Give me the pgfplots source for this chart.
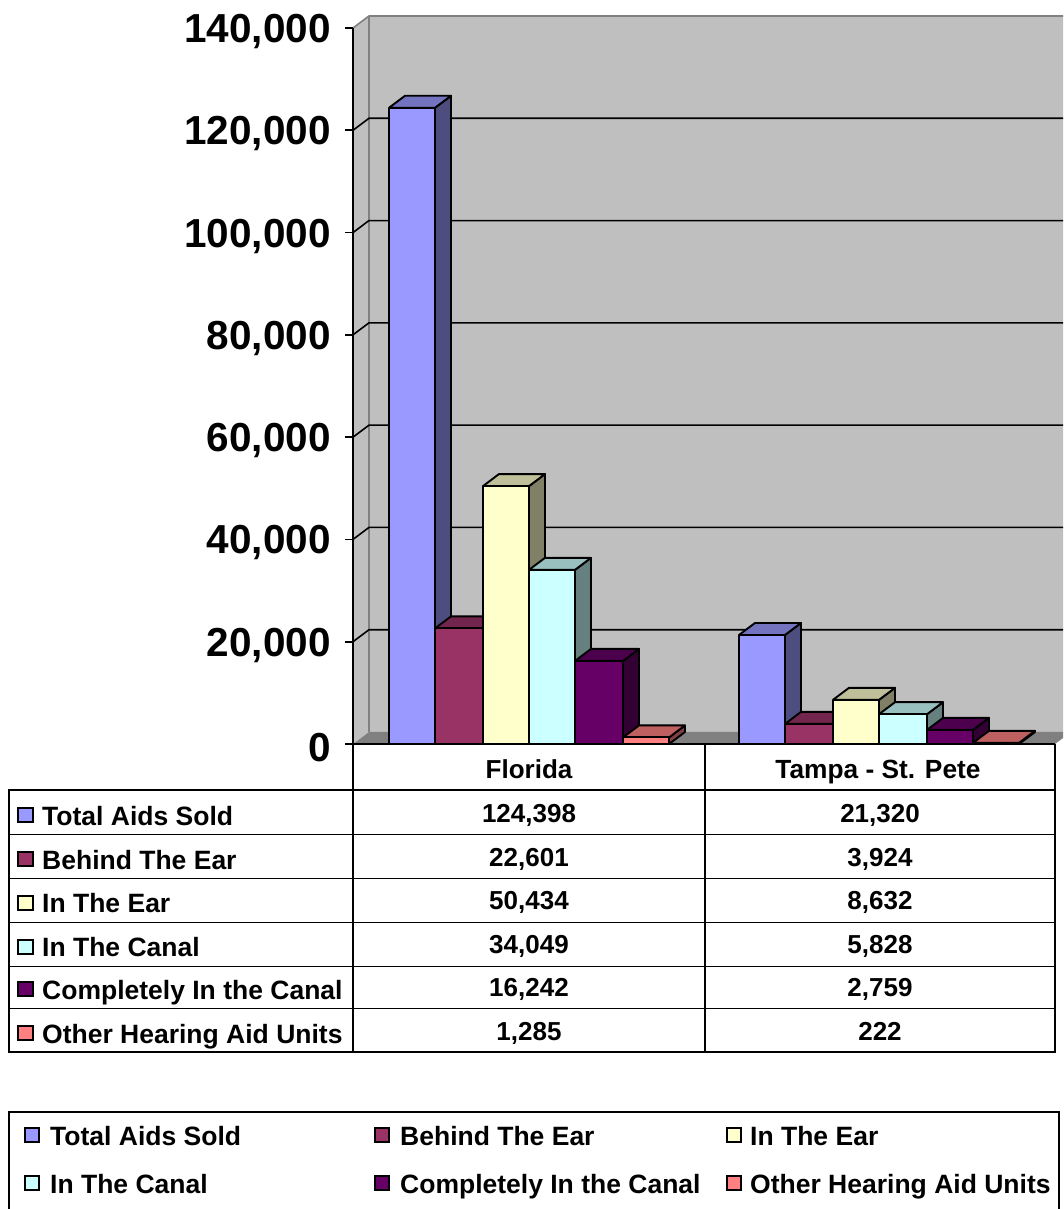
\documentclass[border=0pt]{standalone}
\usepackage{pgfplots}
\usepackage{pgfplotstable}
\pgfplotsset{compat=1.18}
\usepackage{fontspec}
\setmainfont{Liberation Sans}

\definecolor{cA}{HTML}{9999FF}\definecolor{cAt}{HTML}{7373BF}\definecolor{cAs}{HTML}{4D4D80}
\definecolor{cB}{HTML}{993366}\definecolor{cBt}{HTML}{73264D}\definecolor{cBs}{HTML}{4D1933}
\definecolor{cC}{HTML}{FFFFCC}\definecolor{cCt}{HTML}{BFBF99}\definecolor{cCs}{HTML}{808066}
\definecolor{cD}{HTML}{CCFFFF}\definecolor{cDt}{HTML}{99BFBF}\definecolor{cDs}{HTML}{668080}
\definecolor{cE}{HTML}{660066}\definecolor{cEt}{HTML}{4D004D}\definecolor{cEs}{HTML}{330033}
\definecolor{cF}{HTML}{FF8080}\definecolor{cFt}{HTML}{BF6060}\definecolor{cFs}{HTML}{804040}

% x = a*x0 + b*x1 + e,  y = f*value + d  (depth: 16 px across, 12 px = 2350 units up)
\pgfplotstableread{
a b e f d
1 0 0 0 0
1 0 0 1 0
0 1 0 1 0
0 1 0 0 0
1 0 0 0 0
}\frontT
\pgfplotstableread{
a b e f d
1 0 0 1 0
1 0 16 1 2350
0 1 16 1 2350
0 1 0 1 0
1 0 0 1 0
}\topT
\pgfplotstableread{
a b e f d
0 1 0 0 0
0 1 0 1 0
0 1 16 1 2350
0 1 16 0 2350
0 1 0 0 0
}\sideT
\pgfplotstableread{
x d
353 0
369 2350
1063 2350
}\gridT

\newcommand{\threedbar}[4]{% x0, x1, value, colour
  \addplot[draw=black,line width=1.9pt,line join=round,fill=#4s]
    table[x expr=\thisrow{a}*#1+\thisrow{b}*#2+\thisrow{e},y expr=\thisrow{f}*#3+\thisrow{d}] {\sideT};
  \addplot[draw=black,line width=1.9pt,line join=round,fill=#4t]
    table[x expr=\thisrow{a}*#1+\thisrow{b}*#2+\thisrow{e},y expr=\thisrow{f}*#3+\thisrow{d}] {\topT};
  \addplot[draw=black,line width=1.9pt,line join=round,fill=#4]
    table[x expr=\thisrow{a}*#1+\thisrow{b}*#2+\thisrow{e},y expr=\thisrow{f}*#3+\thisrow{d}] {\frontT};
}
\newcommand{\gridln}[1]{%
  \addplot[black,line width=1.6pt] table[x=x,y expr=#1+\thisrow{d}] {\gridT};
}
\newcommand{\swatch}[3]{% x, y, colour
  \draw[black,line width=2pt,fill=#3] (#1pt,-#2pt) rectangle ++(14pt,-14pt);
}

\begin{document}
\begin{tikzpicture}
\path[use as bounding box] (0,0) rectangle (1063pt,-1209pt);
\begin{axis}[
  at={(353pt,-744pt)},anchor=origin,
  scale only axis,width=710pt,height=716pt,
  xmin=353,xmax=1063,ymin=0,ymax=140000,
  clip=false,
  axis x line=none,
  axis y line=left,
  axis line style={-,black,line width=1.8pt},
  axis on top,
  ytick={0,20000,40000,60000,80000,100000,120000,140000},
  scaled y ticks=false,
  tick align=outside,
  major tick length=8pt,
  ytick style={black,line width=1.6pt},
  yticklabel={\pgfmathprintnumber[fixed,precision=0,assume math mode=true,1000 sep={,}]{\tick}},
  yticklabel style={font=\fontsize{40.5}{44}\selectfont\bfseries,inner sep=0pt,xshift=-14pt,yshift=-3.5pt},
]
% walls
\addplot[draw=none,fill=black!25] coordinates {(353,0)(353,140000)(369,142350)(1063,142350)(1063,2350)(369,2350)(353,0)};
\addplot[draw=gray,line width=1.6pt] coordinates {(353,140000)(369,142350)(1063,142350)};
\addplot[draw=gray,line width=1.6pt] coordinates {(369,142350)(369,2350)};
% floor
\addplot[draw=none,fill=gray] coordinates {(353,0)(369,2350)(1063,2350)(1063,1175)(1055,0)(353,0)};
\gridln{20000}\gridln{40000}\gridln{60000}\gridln{80000}\gridln{100000}\gridln{120000}
% Florida
\threedbar{389}{435}{124398}{cA}
\threedbar{435}{483}{22601}{cB}
\threedbar{483}{529}{50434}{cC}
\threedbar{529}{575}{34049}{cD}
\threedbar{575}{623}{16242}{cE}
\threedbar{623}{669}{1285}{cF}
% Tampa - St. Pete
\threedbar{739}{785}{21320}{cA}
\threedbar{785}{833}{3924}{cB}
\threedbar{833}{879}{8632}{cC}
\threedbar{879}{927}{5828}{cD}
\threedbar{927}{973}{2759}{cE}
\threedbar{973}{1019}{222}{cF}
\end{axis}

% data table
\draw[black,line width=1.8pt] (353pt,-743.7pt) -- (1055pt,-743.7pt);
\draw[black,line width=1.8pt] (9pt,-790pt) rectangle (1055pt,-1052pt);
\draw[black,line width=1.8pt] (353pt,-743.7pt) -- (353pt,-1052pt);
\draw[black,line width=1.8pt] (705pt,-743.7pt) -- (705pt,-1052pt);
\draw[black,line width=1.8pt] (1055pt,-743.7pt) -- (1055pt,-1052pt);
\foreach \y in {834,878,922,966,1008} \draw[black,line width=1pt] (9pt,-\y pt) -- (1055pt,-\y pt);

\tikzset{tx/.style={inner sep=0pt,font=\fontsize{26}{30}\selectfont\bfseries},
         lb/.style={inner sep=0pt,anchor=base west,font=\fontsize{26.5}{30}\selectfont\bfseries}}
\node[tx,anchor=base] at (529pt,-778pt) {Florida};
\node[tx,anchor=base] at (878pt,-778pt) {\fontsize{26.3}{30}\selectfont Tampa - St. Pete};
\foreach \n/\c/\sy/\by/\a/\b in {Total Aids Sold/cA/808/825/{124,398}/{21,320},
    Behind The Ear/cB/852/869/{22,601}/{3,924},
    In The Ear/cC/896/912/{50,434}/{8,632},
    In The Canal/cD/940/956/{34,049}/{5,828},
    Completely In the Canal/cE/982/999/{16,242}/{2,759},
    Other Hearing Aid Units/cF/1026/1043/{1,285}/{222}}{
  \draw[black,line width=2pt,fill=\c] (17.5pt,-\sy pt) rectangle ++(15.5pt,-14pt);
  \node[lb] at (42pt,-\by pt) {\n};
  \node[tx,anchor=base] at (529pt,-\by pt+3pt) {\a};
  \node[tx,anchor=base] at (880pt,-\by pt+3pt) {\b};
}

% legend box (its bottom edge is cut off by the page)
\draw[black,line width=1.8pt] (9pt,-1209pt) -- (9pt,-1112pt) -- (1059pt,-1112pt) -- (1059pt,-1209pt);
\swatch{25}{1128}{cA}\node[lb] at (50pt,-1145pt) {Total Aids Sold};
\swatch{375}{1128}{cB}\node[lb] at (400pt,-1145pt) {Behind The Ear};
\swatch{727}{1128}{cC}\node[lb] at (750pt,-1145pt) {In The Ear};
\swatch{25}{1176}{cD}\node[lb] at (50pt,-1193pt) {In The Canal};
\swatch{375}{1176}{cE}\node[lb] at (400pt,-1193pt) {Completely In the Canal};
\swatch{727}{1176}{cF}\node[lb] at (750pt,-1193pt) {Other Hearing Aid Units};
\end{tikzpicture}
\end{document}
